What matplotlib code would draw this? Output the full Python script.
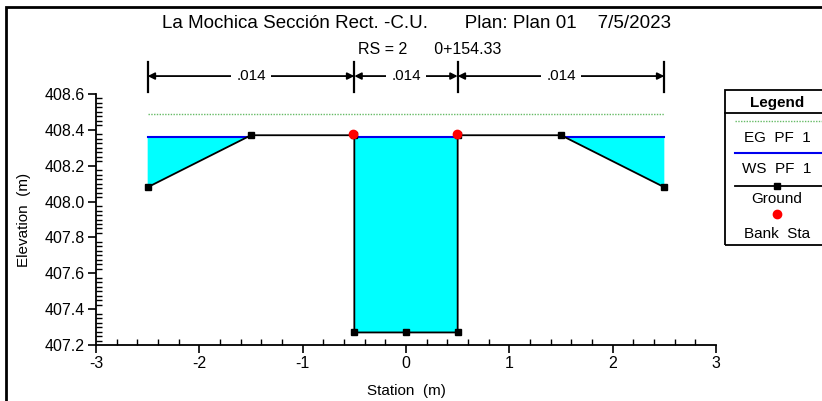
import numpy as np
import matplotlib
matplotlib.use("Agg")
import matplotlib.pyplot as plt
from matplotlib.lines import Line2D
from matplotlib.patches import Rectangle
from matplotlib.ticker import MultipleLocator

plt.rcParams['font.family'] = ['Liberation Sans', 'DejaVu Sans']
plt.rcParams['font.size'] = 11

# cross section data
station = [-2.5, -1.5, -0.5, -0.5, 0.0, 0.5, 0.5, 1.5, 2.5]
ground = [408.08, 408.37, 408.37, 407.27, 407.27, 407.27, 408.37, 408.37, 408.08]
ws_elev = 408.36
eg_elev = 408.49
bank_sta = [-0.5, 0.5]
bank_elev = [408.375, 408.375]
n_breaks = [-2.5, -0.5, 0.5, 2.5]
n_values = [".014", ".014", ".014"]

fig = plt.figure(figsize=(8.22, 4.01), dpi=100)
ax = fig.add_axes([96 / 822, 1 - 345 / 401, 620 / 822, 251 / 401])

x = np.array(station)
g = np.array(ground)

# water fill where ground is below WS
ax.fill_between(x, g, ws_elev, where=g <= ws_elev, interpolate=True,
                color='#00ffff', linewidth=0, zorder=1)

# WS line segments (left overbank, channel, right overbank)
xl = np.interp(ws_elev, [g[0], g[1]], [x[0], x[1]])
xr = np.interp(ws_elev, [g[8], g[7]], [x[8], x[7]])
for xa, xb in [(x[0], xl), (x[3], x[6]), (xr, x[8])]:
    ax.plot([xa, xb], [ws_elev, ws_elev], color='#0000ee', lw=1.5, zorder=2)

# EG line
ax.plot([x[0], x[-1]], [eg_elev, eg_elev], color='#66bb66', lw=1.0,
        linestyle=(0, (1, 1)), zorder=2)

# ground
ax.plot(x, g, color='black', lw=1.3, marker='s', markersize=5, zorder=3)
ax.plot(np.array(bank_sta) - 0.01, bank_elev, 'o', color='red', markersize=6, zorder=4)

# roughness dimension bars on top
bar_lo, bar_hi, arr_y = 408.61, 408.78, 408.70
for xb in n_breaks:
    ax.plot([xb, xb], [bar_lo, bar_hi], color='black', lw=1.6, clip_on=False)
for i, lab in enumerate(n_values):
    xa, xb = n_breaks[i], n_breaks[i + 1]
    ax.annotate('', xy=(xa, arr_y), xytext=(xb, arr_y),
                arrowprops=dict(arrowstyle='<|-|>', color='black', lw=1.3,
                                mutation_scale=10, shrinkA=0, shrinkB=0),
                annotation_clip=False)
    ax.text((xa + xb) / 2, arr_y, lab, ha='center', va='center', fontsize=11,
            bbox=dict(facecolor='white', edgecolor='none', pad=4),
            clip_on=False, zorder=5)

ax.set_xlim(-3, 3)
ax.set_ylim(407.2, 408.6)
ax.xaxis.set_major_locator(MultipleLocator(1))
ax.xaxis.set_minor_locator(MultipleLocator(0.2))
ax.yaxis.set_major_locator(MultipleLocator(0.2))
ax.yaxis.set_minor_locator(MultipleLocator(0.025))
ax.yaxis.set_major_formatter(plt.FuncFormatter(lambda v, p: f"{v:.1f}"))
ax.xaxis.set_major_formatter(plt.FuncFormatter(lambda v, p: f"{v:.0f}"))
ax.tick_params(which='major', direction='out', length=6, width=1.2, labelsize=11.5, pad=2)
ax.tick_params(which='minor', direction='in', length=4, width=1.0)
ax.spines['top'].set_visible(False)
ax.spines['right'].set_visible(False)
ax.spines['left'].set_linewidth(1.3)
ax.spines['bottom'].set_linewidth(1.3)
ax.set_facecolor('none')

ax.set_xlabel('Station  (m)', fontsize=11, labelpad=9)
ax.set_ylabel('Elevation  (m)', fontsize=11, labelpad=10)

# titles
fig.text(416 / 822, 1 - 23 / 401,
         'La Mochica Sección Rect. -C.U.       Plan: Plan 01    7/5/2023',
         ha='center', va='center', fontsize=13.5)
fig.text(358 / 822, 1 - 49 / 401, 'RS = 2      0+154.33',
         ha='left', va='center', fontsize=11.5)

# outer frame
fig.patches.append(Rectangle((6 / 822, -0.1), 1.1, 1 - 7 / 401 + 0.1,
                             transform=fig.transFigure, fill=False,
                             edgecolor='black', lw=2))

# legend box (manual)
W, H = 822, 401
def fx(px):
    return px / W
def fy(py):
    return 1 - py / H

fig.patches.append(Rectangle((fx(725), fy(245)), 0.2, fy(90) - fy(245),
                             transform=fig.transFigure, fill=False,
                             edgecolor='black', lw=1.3))
fig.lines.append(Line2D([fx(725), 1], [fy(113), fy(113)], transform=fig.transFigure,
                        color='black', lw=1.3))
cx = fx(777)
fig.text(cx, fy(103), 'Legend', ha='center', va='center', fontsize=11, fontweight='bold')
fig.lines.append(Line2D([fx(735), 1], [fy(121), fy(121)], transform=fig.transFigure,
                        color='#66bb66', lw=1.0, linestyle=(0, (1, 1))))
fig.text(cx, fy(138), 'EG  PF  1', ha='center', va='center', fontsize=11)
fig.lines.append(Line2D([fx(735), 1], [fy(153), fy(153)], transform=fig.transFigure,
                        color='#0000ee', lw=1.5))
fig.text(cx, fy(169), 'WS  PF  1', ha='center', va='center', fontsize=11)
fig.lines.append(Line2D([fx(735), 1], [fy(186), fy(186)], transform=fig.transFigure,
                        color='black', lw=1.3))
fig.lines.append(Line2D([cx], [fy(186)], transform=fig.transFigure, color='black',
                        marker='s', markersize=5, linestyle='none'))
fig.text(cx, fy(199), 'Ground', ha='center', va='center', fontsize=11)
fig.lines.append(Line2D([cx], [fy(214)], transform=fig.transFigure, color='red',
                        marker='o', markersize=6, linestyle='none'))
fig.text(cx, fy(234), 'Bank  Sta', ha='center', va='center', fontsize=11)

fig.savefig('out.png', dpi=100)
